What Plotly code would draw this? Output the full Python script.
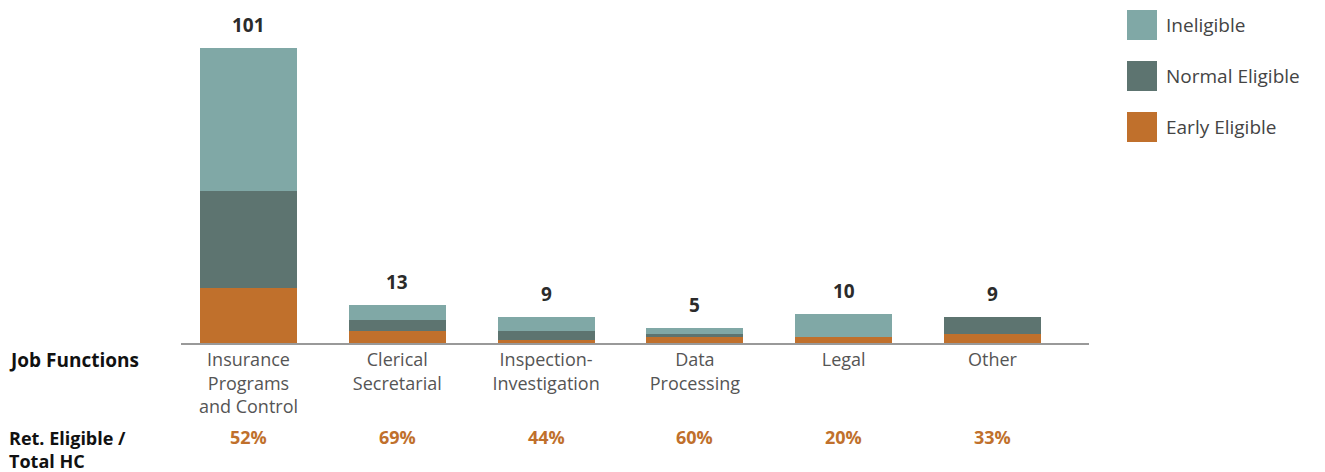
import plotly.graph_objects as go

categories = ["Insurance<br>Programs<br>and Control", "Clerical<br>Secretarial",
              "Inspection-<br>Investigation", "Data<br>Processing", "Legal", "Other"]
early_eligible = [19, 4, 1, 2, 2, 3]
normal_eligible = [33, 4, 3, 1, 0, 6]
ineligible = [49, 5, 5, 2, 8, 0]
totals = [101, 13, 9, 5, 10, 9]
ret_pct = ["52%", "69%", "44%", "60%", "20%", "33%"]

series = [
    ("Early Eligible", early_eligible, "#C0702C"),
    ("Normal Eligible", normal_eligible, "#5D7470"),
    ("Ineligible", ineligible, "#80A8A6"),
]

FONT = "Open Sans"
W, H = 1325, 472
# page is drawn with an 8px body offset, so layout is shifted up/left by 8px
OFF = 8
L, R, T, B = 181 - OFF, W - (1089 - OFF), 2, H - (343 - OFF)
PW, PH = W - L - R, H - T - B


def px(x):
    return (x - OFF - L) / PW


def py(y):
    return 1 - (y - OFF - T) / PH


fig = go.Figure()
for name, vals, color in series:
    fig.add_trace(go.Bar(
        x=categories, y=vals, name=name,
        marker=dict(color=color, line=dict(width=0)),
        showlegend=False,
    ))

# totals on top of the bars
for cat, tot in zip(categories, totals):
    fig.add_annotation(
        x=cat, y=tot, text=f"<b>{tot}</b>", showarrow=False,
        yanchor="bottom", yshift=8,
        font=dict(family=FONT, size=19, color="#2b2b2b"),
    )

# retirement eligible percentages below the labels
for cat, pct in zip(categories, ret_pct):
    fig.add_annotation(
        x=cat, xref="x", y=py(437), yref="paper",
        text=f"<b>{pct}</b>", showarrow=False, yanchor="middle",
        font=dict(family=FONT, size=18, color="#C0702C"),
    )

# row headers on the left
fig.add_annotation(
    x=px(7), xref="paper", y=py(360), yref="paper", text="<b>Job Functions</b>",
    showarrow=False, xanchor="left", yanchor="middle",
    font=dict(family=FONT, size=19, color="#111"),
)
fig.add_annotation(
    x=px(7), xref="paper", y=py(424), yref="paper",
    text="<b>Ret. Eligible /<br>Total HC</b>", showarrow=False,
    xanchor="left", yanchor="top", align="left",
    font=dict(family=FONT, size=18, color="#111"),
)

# custom legend with large square swatches
legend_items = [("Ineligible", "#80A8A6"), ("Normal Eligible", "#5D7470"), ("Early Eligible", "#C0702C")]
for i, (name, color) in enumerate(legend_items):
    y0 = 10 + i * 51
    fig.add_shape(
        type="rect", xref="paper", yref="paper",
        x0=px(1127), x1=px(1157), y0=py(y0 + 30), y1=py(y0),
        fillcolor=color, line=dict(width=0),
    )
    fig.add_annotation(
        x=px(1164), xref="paper", y=py(y0 + 15), yref="paper",
        text=name, showarrow=False, xanchor="left", yanchor="middle",
        font=dict(family=FONT, size=19, color="#444"),
    )

fig.update_layout(
    barmode="stack",
    bargap=0.348,
    width=W, height=H,
    margin=dict(l=L, r=R, t=T, b=B),
    plot_bgcolor="white", paper_bgcolor="white",
    font=dict(family=FONT),
    xaxis=dict(
        showline=True, linecolor="#999", linewidth=1.5,
        tickfont=dict(family=FONT, size=18, color="#555"),
        ticks="", showgrid=False, automargin=False,
        range=[-0.4536, 5.649],
    ),
    yaxis=dict(visible=False, range=[0, 114]),
)

fig.write_html("out.html")
